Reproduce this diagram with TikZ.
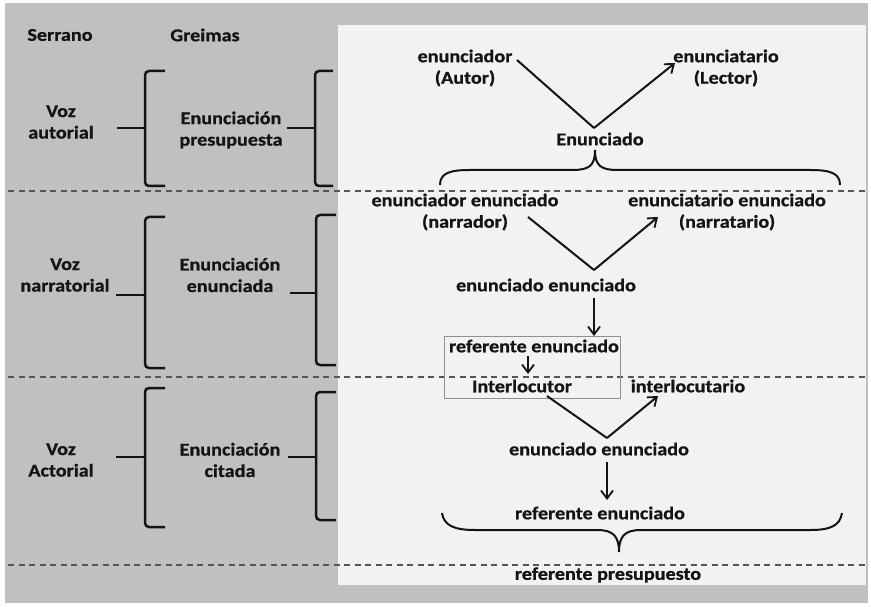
\documentclass[tikz,border=0pt]{standalone}
\usepackage{fontspec}
\setmainfont{Carlito}[FakeStretch=1.12, BoldFeatures={FakeBold=0.8}]
\usetikzlibrary{arrows.meta}
\definecolor{outergray}{HTML}{C0C0C0}
\definecolor{panelc}{HTML}{F2F2F2}
\definecolor{dashc}{HTML}{555555}
\definecolor{boxc}{HTML}{909090}
\definecolor{txtc}{HTML}{141414}
\begin{document}
\begin{tikzpicture}[x=1pt,y=-1pt,
  txt/.style={font=\bfseries\fontsize{18}{21.5}\selectfont, text=txtc, align=center, inner sep=0pt},
  brk/.style={line width=2.5pt, draw=txtc, rounded corners=4pt},
  dline/.style={line width=1.8pt, draw=dashc, dash pattern=on 6pt off 4.5pt},
  arr/.style={line width=2pt, draw=txtc, -{Straight Barb[length=8pt,width=12pt,line width=1.8pt]}},
  vline/.style={line width=2pt, draw=txtc},
  brace/.style={line width=2pt, draw=txtc}]
\useasboundingbox (0,0) rectangle (871,607);
\fill[white] (0,0) rectangle (871,607);
\fill[outergray] (5,3) rectangle (868,603);
\fill[panelc] (338,25) rectangle (866,585);

% dashed separators
\draw[dline] (8,191) -- (868,191);
\draw[dline] (8,377) -- (868,377);
\draw[dline] (8,565) -- (868,565);

% headers
\node[txt] (serrano) at (60,35) {Serrano};
\node[txt] (greimas) at (205,35) {Greimas};

% left labels
\node[txt] (voz1) at (61,122) {Voz\\autorial};
\node[txt] (enu1) at (231,130) {Enunciación\\presupuesta};
\node[txt] (voz2) at (65,275) {Voz\\narratorial};
\node[txt] (enu2) at (230,275) {Enunciación\\enunciada};
\node[txt] (voz3) at (61,460) {Voz\\Actorial};
\node[txt] (enu3) at (230,460) {Enunciación\\citada};

% brackets
\draw[brk] (165,71) -| (145,128) |- (165,186);
\draw[brk] (117,128) -- (145,128);
\draw[brk] (333,71) -| (315,128) |- (333,186);
\draw[brk] (287,128) -- (315,128);

\draw[brk] (165,217) -| (145,295) |- (165,368);
\draw[brk] (116,295) -- (145,295);
\draw[brk] (336,215) -| (316,293) |- (336,365);
\draw[brk] (290,293) -- (316,293);

\draw[brk] (165,388) -| (145,457) |- (165,527);
\draw[brk] (116,457) -- (145,457);
\draw[brk] (336,392) -| (316,457) |- (336,520);
\draw[brk] (288,457) -- (316,457);

% section 1 right
\node[txt] (enr) at (465,68) {enunciador\\(Autor)};
\node[txt] (ent) at (726,68) {enunciatario\\(Lector)};
\node[txt] (enunciado) at (600,139) {Enunciado};
\coordinate (v1a) at (517,60);
\coordinate (v1b) at (594,128);
\coordinate (v1c) at (675,63);
\draw[vline] (v1a) -- (v1b);
\draw[arr] (v1b) -- (v1c);
\draw[brace] (440,185) .. controls (440,173) and (450,170) .. (470,170) -- (572,170)
  .. controls (589,170) and (595,166) .. (595,150)
  .. controls (595,166) and (601,170) .. (618,170) -- (810,170)
  .. controls (830,170) and (840,173) .. (840,185);

% section 2 right
\node[txt] (ene) at (465,212) {enunciador enunciado\\(narrador)};
\node[txt] (ente) at (727,212) {enunciatario enunciado\\(narratario)};
\coordinate (v2a) at (528,217);
\coordinate (v2b) at (594,270);
\coordinate (v2c) at (658,217);
\draw[vline] (v2a) -- (v2b);
\draw[arr] (v2b) -- (v2c);
\node[txt] (ee1) at (546,285) {enunciado enunciado};
\coordinate (a1s) at (594,298);
\coordinate (a1e) at (594,336);
\draw[arr] (a1s) -- (a1e);
\draw[draw=boxc, line width=1pt] (444,336) rectangle (620,398);
\node[txt] (ref1) at (534,346) {referente enunciado};
\node[txt] (interl) at (522,386) {Interlocutor};
\node[txt] (interlr) at (688,386) {interlocutario};
\coordinate (a2s) at (528,356);
\coordinate (a2e) at (528,374);
\draw[arr] (a2s) -- (a2e);

% section 3 right
\coordinate (v3a) at (547,396);
\coordinate (v3b) at (607,438);
\coordinate (v3c) at (658,396);
\draw[vline] (v3a) -- (v3b);
\draw[arr] (v3b) -- (v3c);
\node[txt] (ee2) at (599,449) {enunciado enunciado};
\coordinate (a3s) at (607,462);
\coordinate (a3e) at (607,500);
\draw[arr] (a3s) -- (a3e);
\node[txt] (ref2) at (600,513) {referente enunciado};
\draw[brace] (442,513) .. controls (444,526) and (455,530) .. (475,530) -- (597,530)
  .. controls (613,530) and (619,536) .. (619,552)
  .. controls (619,536) and (625,530) .. (641,530) -- (810,530)
  .. controls (830,530) and (840,526) .. (842,513);
\node[txt] (refp) at (608,575) {referente presupuesto};
\end{tikzpicture}
\end{document}
